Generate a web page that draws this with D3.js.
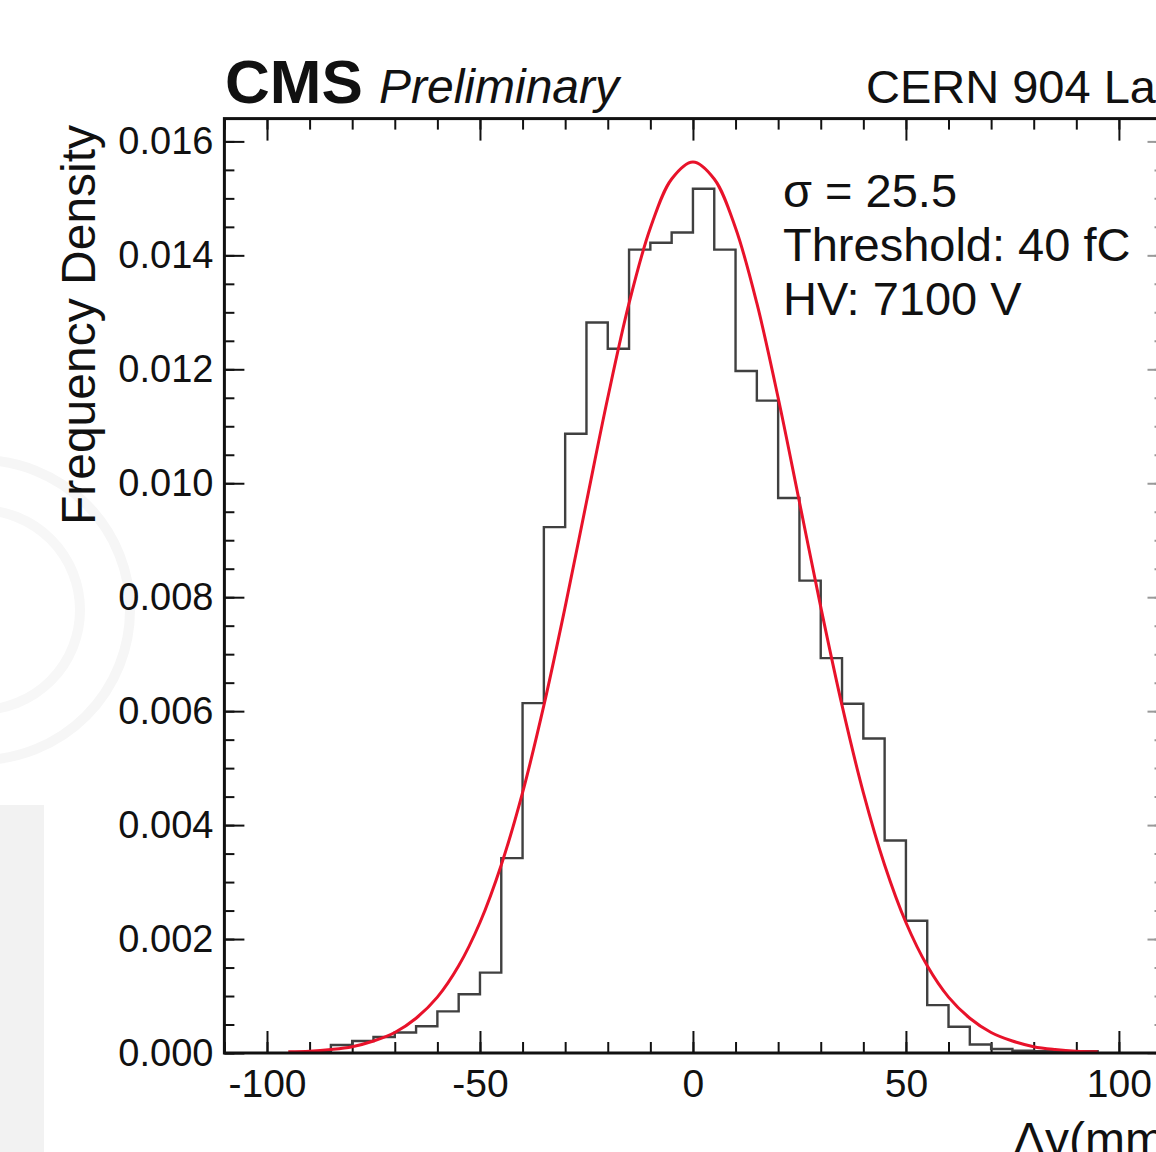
<!DOCTYPE html>
<html>
<head>
<meta charset="utf-8">
<script src="https://cdn.jsdelivr.net/npm/d3@7"></script>
<style>
  body { margin: 0; background: #fff; }
  svg { display: block; font-family: "Liberation Sans", Arial, Helvetica, sans-serif; }
</style>
</head>
<body>
<svg id="chart" width="1156" height="1152"></svg>
<script>
// Histogram: lower bin edge (mm) and frequency density, bin width 5 mm
const binWidth = 5;
const binStart = [-90, -85, -80, -75, -70, -65, -60, -55, -50, -45, -40, -35, -30, -25, -20, -15, -10, -5,
                  0, 5, 10, 15, 20, 25, 30, 35, 40, 45, 50, 55, 60, 65, 70, 75, 80, 85, 90];
const density = [0.00003, 0.00014, 0.00021, 0.00028, 0.00036, 0.00047, 0.00073, 0.00103, 0.00141, 0.00342,
                 0.00614, 0.00923, 0.01087, 0.01282, 0.01236, 0.01410, 0.01422, 0.01440,
                 0.01517, 0.01410, 0.01197, 0.01145, 0.00974, 0.00829, 0.00693, 0.00613, 0.00552, 0.00373,
                 0.00232, 0.00084, 0.00046, 0.00015, 0.00007, 0.00004, 0.00003, 0.00003, 0.00003];

// Gaussian fit curve, every 5 mm
const fitX = [-95, -90, -85, -80, -75, -70, -65, -60, -55, -50, -45, -40, -35, -30, -25, -20, -15, -10, -5,
              0, 5, 10, 15, 20, 25, 30, 35, 40, 45, 50, 55, 60, 65, 70, 75, 80, 85, 90, 95];
const fitY = [0.00002, 0.00003, 0.00006, 0.00011, 0.00021, 0.00036, 0.00061, 0.00098, 0.00153, 0.00229,
              0.00330, 0.00457, 0.00610, 0.00783, 0.00967, 0.01150, 0.01316, 0.01448, 0.01534,
              0.01564, 0.01534, 0.01448, 0.01316, 0.01150, 0.00967, 0.00783, 0.00610, 0.00457, 0.00330,
              0.00229, 0.00153, 0.00098, 0.00061, 0.00036, 0.00021, 0.00011, 0.00006, 0.00003, 0.00002];

const xMajorTicks = [-100, -50, 0, 50, 100];
const yMajorTicks = [0, 0.002, 0.004, 0.006, 0.008, 0.010, 0.012, 0.014, 0.016];
const statLines = ["σ = 25.5", "Threshold: 40 fC", "HV: 7100 V"];

const svg = d3.select("#chart");

// faint background watermark on the left edge
svg.append("rect").attr("x", 0).attr("y", 805).attr("width", 44).attr("height", 347).attr("fill", "#f2f2f2");
svg.append("circle").attr("cx", -20).attr("cy", 610).attr("r", 150)
    .attr("fill", "none").attr("stroke", "#f6f6f6").attr("stroke-width", 10);
svg.append("circle").attr("cx", -20).attr("cy", 610).attr("r", 100)
    .attr("fill", "none").attr("stroke", "#f7f7f7").attr("stroke-width", 10);

const x = d3.scaleLinear().domain([-110, 110]).range([224.4, 1161.5]);
const y = d3.scaleLinear().domain([0, 0.0164]).range([1053, 118.6]);

const plotTop = y.range()[1], plotBottom = y.range()[0];
const plotLeft = x.range()[0], plotRight = x.range()[1];

const minorX = d3.range(-110, 111, 10);
const minorY = d3.range(0, 0.01641, 0.0005);

// bottom axis: major ticks with labels
const gBottom = svg.append("g").attr("transform", `translate(0,${plotBottom})`);
gBottom.call(d3.axisBottom(x).tickValues(xMajorTicks).tickSizeInner(-22).tickSizeOuter(0)
    .tickPadding(16).tickFormat(d => String(d)));
gBottom.append("g").call(d3.axisBottom(x).tickValues(minorX).tickSizeInner(-11).tickSizeOuter(0).tickFormat(""));

// top axis ticks pointing down
const gTop = svg.append("g").attr("transform", `translate(0,${plotTop})`);
gTop.call(d3.axisTop(x).tickValues(xMajorTicks).tickSizeInner(-22).tickSizeOuter(0).tickFormat(""));
gTop.append("g").call(d3.axisTop(x).tickValues(minorX).tickSizeInner(-11).tickSizeOuter(0).tickFormat(""));

// left axis
const gLeft = svg.append("g").attr("transform", `translate(${plotLeft},0)`);
gLeft.call(d3.axisLeft(y).tickValues(yMajorTicks).tickSizeInner(-20).tickSizeOuter(0)
    .tickPadding(10).tickFormat(d3.format(".3f")));
gLeft.append("g").call(d3.axisLeft(y).tickValues(minorY).tickSizeInner(-10).tickSizeOuter(0).tickFormat(""));

// right axis ticks (mostly outside the cropped view)
const gRight = svg.append("g").attr("transform", `translate(${plotRight},0)`);
gRight.call(d3.axisRight(y).tickValues(yMajorTicks).tickSizeInner(-14).tickSizeOuter(0).tickFormat(""));
gRight.append("g").call(d3.axisRight(y).tickValues(minorY).tickSizeInner(-7).tickSizeOuter(0).tickFormat(""));

svg.selectAll(".domain").remove();
svg.selectAll(".tick line").attr("stroke", "#111").attr("stroke-width", 2);
gRight.selectAll(".tick line").attr("stroke", "#999");
gBottom.selectAll(".tick text").attr("font-size", 39).attr("fill", "#111")
    .attr("font-family", "'Liberation Sans', Arial, sans-serif");
gLeft.selectAll(".tick text").attr("font-size", 38).attr("fill", "#111")
    .attr("font-family", "'Liberation Sans', Arial, sans-serif").attr("dx", -1);

// histogram outline
const histPts = [[binStart[0], 0]];
binStart.forEach((b, i) => {
    histPts.push([b, density[i]]);
    histPts.push([b + binWidth, density[i]]);
});
histPts.push([binStart[binStart.length - 1] + binWidth, 0]);

svg.append("path")
    .datum(histPts)
    .attr("fill", "none")
    .attr("stroke", "#404040")
    .attr("stroke-width", 2.4)
    .attr("d", d3.line().x(d => x(d[0])).y(d => y(d[1])));

// fit curve
svg.append("path")
    .datum(fitX.map((v, i) => [v, fitY[i]]))
    .attr("fill", "none")
    .attr("stroke", "#e8122a")
    .attr("stroke-width", 3)
    .attr("d", d3.line().x(d => x(d[0])).y(d => y(d[1])).curve(d3.curveCatmullRom));

// frame
svg.append("rect")
    .attr("x", plotLeft).attr("y", plotTop)
    .attr("width", plotRight - plotLeft).attr("height", plotBottom - plotTop)
    .attr("fill", "none").attr("stroke", "#111").attr("stroke-width", 3);

// header texts
svg.append("text").attr("x", 225).attr("y", 103)
    .attr("font-size", 62).attr("font-weight", "bold").attr("fill", "#111").text("CMS");
svg.append("text").attr("x", 379).attr("y", 103)
    .attr("font-size", 48).attr("font-style", "italic").attr("fill", "#111").text("Preliminary");
svg.append("text").attr("x", 866).attr("y", 103)
    .attr("font-size", 47).attr("fill", "#111").text("CERN 904 Lab");

// stats box
svg.selectAll(".stat")
    .data(statLines)
    .enter()
    .append("text")
    .attr("class", "stat")
    .attr("x", 783)
    .attr("y", (d, i) => 207 + i * 54)
    .attr("font-size", 47)
    .attr("fill", "#111")
    .text(d => d);

// axis titles
svg.append("text")
    .attr("transform", "translate(95,325) rotate(-90)")
    .attr("text-anchor", "middle")
    .attr("font-size", 48).attr("fill", "#111")
    .text("Frequency Density");
svg.append("text")
    .attr("x", 1013).attr("y", 1156)
    .attr("font-size", 48).attr("fill", "#111")
    .text("Δy(mm)");
</script>
</body>
</html>
